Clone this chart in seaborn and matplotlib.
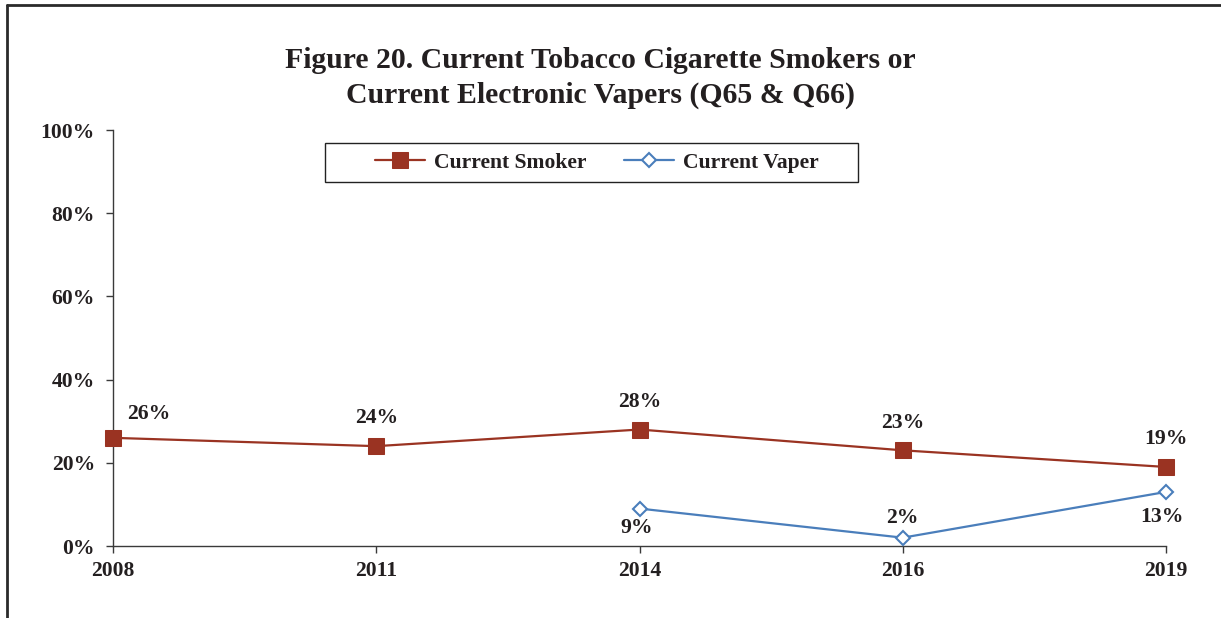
import matplotlib
matplotlib.use("Agg")
import matplotlib.pyplot as plt
from matplotlib.lines import Line2D
from matplotlib.patches import Rectangle
import numpy as np
import pandas as pd
import seaborn as sns

years = ["2008", "2011", "2014", "2016", "2019"]
smoker = [26, 24, 28, 23, 19]
vaper = [np.nan, np.nan, 9, 2, 13]
y_ticks = [0, 20, 40, 60, 80, 100]

SMOKER_COLOR = "#9A3322"
VAPER_COLOR = "#4A7EBB"
TEXT_COLOR = "#231F20"
FS = 15.6

sns.set_theme(style="white")
plt.rcParams["font.family"] = ["Liberation Serif", "DejaVu Serif"]
plt.rcParams["font.weight"] = "bold"

fig = plt.figure(figsize=(12.21, 6.18), dpi=100)
W, H = 1221, 618
ax = fig.add_axes([113 / W, 1 - 546 / H, (1166 - 113) / W, (546 - 130) / H])

df = pd.DataFrame({"pos": np.arange(len(years)), "Current Smoker": smoker, "Current Vaper": vaper})

sns.lineplot(data=df, x="pos", y="Current Smoker", ax=ax, color=SMOKER_COLOR, lw=1.6,
             marker="s", markersize=11, markeredgecolor=SMOKER_COLOR, label="Current Smoker",
             clip_on=False, zorder=3)
sns.lineplot(data=df.dropna(), x="pos", y="Current Vaper", ax=ax, color=VAPER_COLOR, lw=1.6,
             marker="D", markersize=7.5, markerfacecolor="white", markeredgecolor=VAPER_COLOR,
             markeredgewidth=1.5, label="Current Vaper", clip_on=False, zorder=3)

ax.set_xlim(0, len(years) - 1)
ax.set_ylim(0, 100)
ax.set_xticks(range(len(years)))
ax.set_xticklabels(years)
ax.set_yticks(y_ticks)
ax.set_yticklabels([f"{t}%" for t in y_ticks])
ax.set_xlabel("")
ax.set_ylabel("")
for s in ("top", "right"):
    ax.spines[s].set_visible(False)
for s in ("left", "bottom"):
    ax.spines[s].set_color("#3a3a3a")
    ax.spines[s].set_linewidth(1.0)
ax.tick_params(axis="both", which="major", direction="out", length=5, width=1.0,
               color="#3a3a3a", labelsize=FS, labelcolor=TEXT_COLOR, bottom=True, left=True)
ax.tick_params(axis="x", pad=6)
ax.tick_params(axis="y", pad=8)
for lab in ax.get_xticklabels() + ax.get_yticklabels():
    lab.set_fontweight("bold")

# value labels
smoker_off = [(26, 17), (0, 20), (0, 20), (0, 20), (0, 20)]
for i, v in enumerate(smoker):
    ax.annotate(f"{v}%", (i, v), xytext=smoker_off[i], textcoords="offset points",
                ha="center", va="center", fontsize=FS, fontweight="bold", color=TEXT_COLOR)
vaper_off = {2: (-2, -14), 3: (0, 14), 4: (-3, -18)}
for i, v in enumerate(vaper):
    if not np.isnan(v):
        ax.annotate(f"{v:.0f}%", (i, v), xytext=vaper_off[i], textcoords="offset points",
                    ha="center", va="center", fontsize=FS, fontweight="bold", color=TEXT_COLOR)

leg = ax.legend(loc="center", bbox_to_anchor=(597 / W, 1 - 162.5 / H), bbox_transform=fig.transFigure,
                ncol=2, frameon=False, prop={"size": FS, "weight": "bold"},
                handlelength=2.3, columnspacing=1.7, handletextpad=0.45)
for t in leg.get_texts():
    t.set_color(TEXT_COLOR)
fig.add_artist(Rectangle((325 / W, 1 - 182 / H), (858 - 325) / W, 39 / H, transform=fig.transFigure,
                         facecolor="none", edgecolor="#222222", lw=1.0))

fig.text(600 / W, 1 - 60 / H, "Figure 20. Current Tobacco Cigarette Smokers or",
         ha="center", va="center", fontsize=21.4, fontweight="bold", color=TEXT_COLOR)
fig.text(600 / W, 1 - 95 / H, "Current Electronic Vapers (Q65 & Q66)",
         ha="center", va="center", fontsize=21.4, fontweight="bold", color=TEXT_COLOR)

# outer frame (left and top edges)
fig.add_artist(Line2D([7 / W, 7 / W], [0, 1 - 5 / H], transform=fig.transFigure, color="#2a2a2a", lw=2))
fig.add_artist(Line2D([7 / W, 1], [1 - 5 / H, 1 - 5 / H], transform=fig.transFigure, color="#2a2a2a", lw=2))

fig.savefig("out.png", dpi=100, facecolor="white")
